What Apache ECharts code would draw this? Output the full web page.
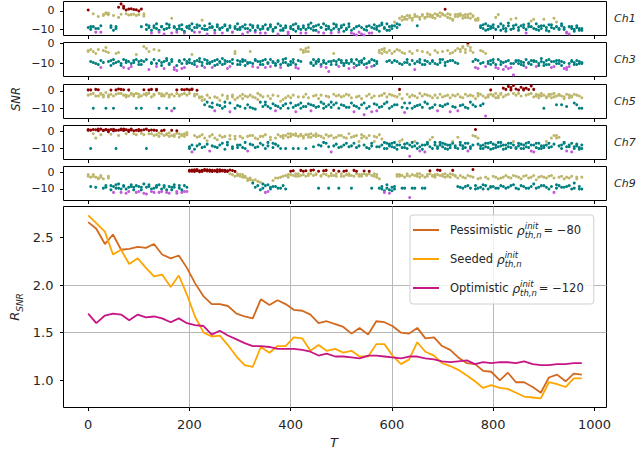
<!DOCTYPE html>
<html><head><meta charset="utf-8">
<script src="https://cdn.jsdelivr.net/npm/echarts@6/dist/echarts.min.js"></script>
<style>html,body{margin:0;padding:0;background:#fff}#c{width:636px;height:455px}</style>
</head><body><div id="c"></div>
<script>
// ---- data ----
const snrT = [
0,5,10,15,20,25,30,35,40,45,50,55,60,65,70,75,80,85,90,95,
100,105,110,115,120,125,130,135,140,145,150,155,160,165,170,175,180,185,190,195,
200,205,210,215,220,225,230,235,240,245,250,255,260,265,270,275,280,285,290,295,
300,305,310,315,320,325,330,335,340,345,350,355,360,365,370,375,380,385,390,395,
400,405,410,415,420,425,430,435,440,445,450,455,460,465,470,475,480,485,490,495,
500,505,510,515,520,525,530,535,540,545,550,555,560,565,570,575,580,585,590,595,
600,605,610,615,620,625,630,635,640,645,650,655,660,665,670,675,680,685,690,695,
700,705,710,715,720,725,730,735,740,745,750,755,760,765,770,775,780,785,790,795,
800,805,810,815,820,825,830,835,840,845,850,855,860,865,870,875,880,885,890,895,
900,905,910,915,920,925,930,935,940,945,950,955,960,965,970,975];
const ch1 = [
0.5,-8.5,-1.5,-9.5,-3,-11.5,-2,-1,-1.2,-8,-2.5,-9.5,-3.5,3.8,1.5,-1.5,1,-2,0.8,-2.5,
0,-8.5,-2.8,-10,-8,-12,-9,-7,-10.5,-8.5,-12.5,-9.5,-7.5,-4,-9,-11.5,-8,-10,-12,-8.5,
-9.5,-7,-11.5,-9,-8,-5,-10,-12.5,-9,-8.5,-10.5,-7.5,-9.5,-12,-8,-10,-9,-11.5,-8.5,-10,
-9,-12.5,-7.5,-9.5,-10.5,-8,-11.5,-9,-10,-8.5,-12,-9.5,-7.5,-10,-9,-12.5,-8,-10.5,-9,-11.5,
-8.5,-10,-7,-9.5,-12,-8,-10,-9,-6.5,-8.5,-10.5,-7.5,-9,-12,-8,-9.5,-10.5,-7,-8.5,-11.5,
-9,-7.5,-10,-8.5,-12,-9.5,-13,-8,-12.5,-10,-8.5,-12,-9,-7.5,-10,-8,-6.5,-9.5,-7,-10.5,
-8,-6,-9,-7.5,-5,-3.5,-4.5,-2.5,-4,-3,-8,-3.5,-2.5,-4,-3,-2,-3.5,-1.5,-2.5,-1,
-2,0.9,-1.5,-4,-5,-2,-3,-1.5,-2.5,-3.5,-2,-4,-3,-4.5,-5,-8,-9.5,-7,-10,-8.5,
-9,-3.5,-2,-10.5,-8,-9.5,-6.5,-10,-8,-4,-9,-13.5,-7.5,-10,-8.5,-5.5,-9.5,-7,-10.5,-8,
-4.5,-9,-11,-7.5,-9.5,-6,-10,-8,-9,-11.5,-12.5,-8.5,-10,-9,-10.5,-9.5];
const ch1b = [
-9,-10,-8.5,-11.5,-9.5,-8,-2.5,-1.5,-2,-9,-10.5,-8.5,2,-1.8,2.5,0.5,-2.2,1.2,-1.8,0.6,
-2,1,-1.5,-7.5,-9,-10.5,-8,-9.5,-11.5,-8.5,-10,-7,-9,-12,-8.5,-10,-9.5,-7.5,-11,-9,
-8,-10.5,-9,-7.5,-11.5,-9.5,-8,-10,-7,-9,-12,-8.5,-10,-9,-7.5,-10.5,-8,-11.5,-9.5,-7,
-10,-8.5,-9.5,-11.5,-7.5,-9,-10.5,-8,-12,-9.5,-7.5,-10,-8.5,-11,-9,-7,-10.5,-9.5,-8,-12.5,
-9.5,-7.5,-11,-8.5,-10,-9,-12,-7.5,-9.5,-10.5,-8,-11.5,-9,-7,-10,-8.5,-12,-9.5,-7.5,-10,
-8,-11,-9.5,-7,-10.5,-12.5,-8.5,-11.5,-9,-13,-10.5,-8,-12,-9.5,-8.5,-11,-7.5,-9,-10.5,-8.5,
-9.5,-8,-7,-4,-3,-4.5,-2.5,-3.5,-5,-2,-3,-4.5,-2,-3.5,-1.5,-3,-2.5,-4,-2,-3,
-1.5,-2.5,-3.5,-2,-4.5,-3,-1.8,-2.5,-4,-2,-3.5,-1.5,-2.5,-5,-4,-9,-7.5,-10.5,-8,-9.5,
-7.5,-10,-8.5,-7,-9.5,-11,-8,-4.5,-9.5,-7.5,-10.5,-8,-9,-12,-7,-8.5,-4.5,-10,-8.5,-9.5,
-8,-10.5,-7.5,-9,-4,-8.5,-9.5,-7,-10,-12,-8.5,-9.5,-11,-8,-9.5,-10.5];
const ch3 = [
-3.5,-9,-4,-10,-3,-12,-9.5,-2,-4.5,-8.5,-10,-5,-9,-11,-8,-9.5,-12.5,-10,-8.5,-5.5,
-9,-10.5,-1.5,-8,-13,-9.5,-3,-10,-8.5,-11,-9,-7.5,-10.5,-8,-12,-13.5,-9,-12.5,-8,-10,
-9.5,-5.5,-10.5,-8.5,-9,-11,-8,-10,-9.5,-12,-8.5,-10.5,-9,-7.5,-10,-12.5,-9,-8,-5,-10.5,
-9,-8,-11,-9.5,-4,-10,-8.5,-12,-9,-10.5,-8,-9.5,-11.5,-9,-10,-8.5,-12,-9.5,-7.5,-10.5,
-9,-8,-10.5,-12.5,-9,-3.5,-2.5,-4,-9.5,-8,-10,-9,-11.5,-8.5,-10,-14,-9,-5,-10.5,-8,
-9.5,-11,-8.5,-10,-9,-12,-8,-10.5,-9.5,-7.5,-10,-9,-11.5,-8.5,-10,-4.5,-3,-4,-9,-3.5,
-5,-8.5,-3,-10,-4.5,-9.5,-8,-10.5,-5,-13,-9,-8,-4,-10.5,-9,-5.5,-8.5,-10,-4.5,-9.5,
-8,-11,-9,-5,-8.5,-3.5,-2.5,-4,-1.5,-3,0,-2,-4.5,-8,-12.5,-3.5,-9.5,-5,-10,-8.5,
-9.5,-12,-8,-10.5,-13,-9,-12.5,-10,-15.7,-8.5,-10,-9,-11,-8,-9.5,-10.5,-8.5,-9,-11,-7.5,
-9.5,-10.5,-8,-9,-11.5,-8.5,-10,-9,-12.5,-13,-10,-8.5,-9.5,-10.5,-9,-10];
const ch3b = [
-4,-3,-9.5,-5,-10.5,-8.5,-3.5,-4,-9,-11,-8,-9.5,-4.5,-10,-12,-8.5,-9,-11.5,-9.5,-8,
-10.5,-8.5,-9,-2.5,-4,-10,-8,-11.5,-3.5,-9.5,-12.5,-8.5,-10,-9,-13,-11,-8.5,-10,-12,-9,
-8,-10,-9,-11.5,-7.5,-9.5,-12,-8.5,-10,-9,-11,-8,-9.5,-10.5,-8.5,-9,-11.5,-10,-4,-8.5,
-10.5,-9,-8.5,-10,-9.5,-11.5,-8,-9,-10.5,-8.5,-12,-10,-8,-9.5,-11,-9,-10.5,-8,-9.5,-11,
-10.5,-9.5,-12,-8.5,-3,-4.5,-4,-2,-10,-11,-9,-8,-10.5,-9.5,-12,-9,-10.5,-8.5,-9,-11.5,
-8.5,-10,-9.5,-12.5,-8,-10,-11,-9,-8.5,-10.5,-12,-9.5,-8,-11,-9,-3.5,-5,-2.5,-4.5,-8.5,
-9.5,-4,-9,-3.5,-10.5,-5,-9.5,-4,-8.5,-10,-3.5,-9.5,-10.5,-8.5,-4.5,-10,-9,-3.5,-10.5,-8,
-4,-9.5,-3.5,-8.5,-4.5,-9.5,-10,-3,-2,-4.5,-1,-3.5,-9,-12,-8.5,-10,-4,-11.5,-9,-10.5,
-8,-10.5,-12.5,-9,-9.5,-11.5,-8.5,-12,-10,-9,-8.5,-10.5,-9.5,-12,-10,-8.5,-9,-11.5,-10,-9,
-11,-8.5,-10.5,-12,-9,-10,-8.5,-11,-9.5,-12,-11.5,-9,-10.5,-8.5,-10,-9.5];
const ch5 = [
0.5,-2,-10,0.8,-3,-1.5,-2.5,-10,-3.5,-2,-10,0.5,1,-1.5,0.6,-2.5,-3,-1.5,-2,-10,
-3.5,-10,-2,-1.5,0.5,0.8,-2.5,0.4,-10,-1.8,-3,-10,-2.5,-11.5,-10,-1.5,-3,-2,0.6,0.9,
0.5,1,-2,0.3,-3.5,-5.5,-8,-2.5,-9,-7,-11.5,-4,-8.5,-10,-6.5,-3,-12,-2.5,-10,-4,
-3,-2,-10,-3.5,-2.5,-10,-4,-1.5,-6.5,-9,-8,-3,-10,-7.5,-11.5,-9,-6,-8.5,-4,-10,
-7,-9.5,-12,-8,-10,-3.5,-9,-7.5,-11.5,-8.5,-2.5,-9,-6.5,-10,-3,-8,-9.5,-2,-7,-10,
-3.5,-8.5,-9.5,-2.5,-7,-12,-9,-3,-8,-13.7,-10,-2,-12,-7.5,-11.5,-3,-9,-1.5,-6.5,-10,
-2.5,-8,-3.5,0.8,-9.5,-12.5,-2,-7,-10,-3,-8.5,-1.5,-9.5,-6.5,-2.5,-10,-4,-8,-11.5,-2,
-9,-3,-7.5,-12,-2.5,-9.5,-11.5,-3.5,-8,-2,-10,-6.5,-3,-9,-1.5,-8.5,-3,-14.5,-2.5,0.5,
-3,-1.5,-4,-2,1.5,-2.5,2.5,0.5,3,1,-1.5,2,0.5,1.5,-2,2.8,0.8,-3,-2.5,-1.5,
-10,-3.5,-2,-4,-1.5,-3,-2.5,-8,-3.5,-2,-4,-3,-7,-2.5,-10,-10];
const ch5b = [
-2.5,0.5,-1.5,-3,0.6,-2,-3.5,-1,-2.5,0.4,-3,-2,-1.5,0.8,-2.5,-3.5,0.5,-2,-3,-1.5,
-2,-3,0.6,-2.5,-1.5,-3.5,-2,0.8,-1.5,-3,-2.5,-1.5,-3.5,-2,-3,0.5,-2.5,0.7,-1.5,-2.5,
-1.5,0.7,-3,-2,-4,-3.5,-5,-6.5,-4,-9.5,-3.5,-8,-5.5,-2.5,-9,-4.5,-7,-3.5,-5,-8.5,
-9,-4.5,-3,-8,-9.5,-3.5,-10.5,-5,-2.5,-3.5,-6.5,-9,-4.5,-2.5,-8.5,-3,-10,-5,-7.5,-3,
-4,-2.5,-8.5,-3.5,-7,-9,-2,-4,-8,-3,-9.5,-4.5,-2.5,-7.5,-9,-3.5,-6.5,-8,-3,-2.5,
-8,-3,-2,-9.5,-4,-8.5,-3.5,-10,-4.5,-7,-3,-9,-4,-3,-8,-9.5,-2.5,-7.5,-3.5,-2,
-9,-3,-8,-2,-4.5,-7,-10,-3.5,-2.5,-9,-4,-8,-3,-2,-7.5,-3,-9.5,-2.5,-4,-8.5,
-3.5,-8,-2.5,-4,-9,-3,-2,-8.5,-4,-9.5,-3,-2.5,-8,-4.5,-3,-2,-7.5,-4,-3.5,-2,
-2.5,-4,-3,-1.5,-3.5,0.8,-2,1.8,-1.5,-2.5,0.5,-3,1.2,-2.5,0.7,-1.5,-3.5,-2,-4,-3,
-2.5,-4,-3,-2,-3.5,-8,-2,-3,-4.5,-9,-2.5,-3.5,-2,-8,-3,-4];
const ch7 = [
0.5,-10,1,-4,0.3,1.2,0.5,0.8,-0.3,1,0.2,-10,0.6,1.3,0.4,0.9,-0.2,0.7,-1.5,0.5,
0.3,-1.2,0.8,-10,0.4,-1.5,0.6,-2,-1,0.3,-2.5,-1.5,-3,0.5,-2,-1.2,-3.5,-2,-1.5,-0.8,
-10,-12,-2.5,-8.5,-3,-9.5,-4,-7.5,-11.5,-2,-9,-5,-8,-3.5,-10.5,-6.5,-2.5,-9,-4.5,-8,
-3,-9.5,-6.5,-11.5,-2.5,-8,-4,-9,-7,-3,-10,-8.5,-5,-9.5,-7.5,-2,-10,-4,-2.5,-3.5,
-1.5,-10,-2.5,-3,-1.8,-4,-10,-2,-3.5,-2.5,-1.5,-8,-3,-6.5,-2,-9,-12,-4,-7.5,-2.5,
-9,-3.5,-7,-1.5,-8.5,-3,-9.5,-6,-2,-8,-4,-10,-7,-3,-9,-2,-8,-6.5,-10,-7.5,
-9,-6.5,-10.5,-8,-5,-9.5,-7,-14.5,-9,-6,-10,-11.5,-8,-12,-6.5,-9,-3.5,-8,-10,-6.5,
-9,-7.5,-10.5,-8,-6,-9.5,-3.5,-8,-10,-7,-11.5,-9,-2.5,1,-4,-8.5,-10,-7,-9.5,-6.5,
-10,-8,-9,-6.5,-10.5,-8,-7,-9.5,-6,-10,-8.5,-7.5,-10,-9,-6.5,-11.5,-8,-9.5,-7,-10,
-8.5,-6,-9.5,-4,-7.5,-2.5,-3.5,-8,-6.5,-11.5,-9,-7,-10,-8.5,-9.5,-10];
const ch7b = [
1,0.6,-1.5,0.8,1.3,-2,0.4,1,0.7,-1.8,1.1,0.5,-2.5,0.8,1.2,-1.5,0.6,1.3,0.3,-2,
1,0.5,-2,1.2,-1.5,0.7,-2.5,0.4,-3,-1.5,0.6,-2,-1,-2.5,-3,0.3,-1.5,-2.5,-3,-2,
-9,-8,-10.5,-3.5,-7.5,-2,-9,-5.5,-3,-8.5,-4,-9.5,-2.5,-7,-3,-8,-4.5,-10,-3,-9.5,
-8,-4,-10,-3,-7.5,-2.5,-9.5,-4.5,-3,-8,-2,-6.5,-3.5,-7,-4,-8.5,-3,-2.5,-10,-1.5,
-3,-2,-1.5,-10,-2.5,-3,-2,-3.5,-1.5,-9,-3,-2.5,-8.5,-4,-7,-3,-2.5,-8.5,-3.5,-9.5,
-2.5,-8,-4,-9,-3.5,-7,-2.5,-8.5,-4,-3,-9.5,-2.5,-8.5,-6,-3.5,-9,-4.5,-10,-7,-8.5,
-7,-9.5,-8,-6,-9.5,-7.5,-10,-8,-6.5,-8.5,-7,-9,-10.5,-8,-7.5,-5,-10,-6.5,-9,-8,
-7,-10,-8,-9.5,-7,-8.5,-10,-6.5,-8.5,-9.5,-7,-10,-8,-3,-7.5,-10,-8,-9,-7,-10.5,
-7.5,-9.5,-6.5,-8.5,-8,-10,-9,-7,-8,-9.5,-7,-10,-8,-7,-9.5,-8,-12,-7,-10,-8.5,
-9.5,-8,-7,-9,-2.5,-4,-8.5,-10,-7,-9,-8,-12,-9,-7.5,-10.5,-8];
const ch9 = [
-1.5,-8.5,-2.5,-3,-3.5,-2,-4,-9,-3.5,-8,-12,-9.5,-7,-10,-8.5,-12.5,-9,-7.5,-10.5,-8,
-11.5,-9,-7,-13,-8.5,-10,-12,-9,-7.5,-11.5,-8,-10.5,-12.5,-9,-7.5,-11.5,-9.5,-12,-8,-11.5,
1,0.5,1.3,0.8,0.2,1,1.5,0.6,1.2,0.4,0.9,1.4,0.5,1.1,0.3,0.8,1.2,-1.5,0.4,-2,
-2.5,-1.5,-3,-4,-3.5,-5,-4.5,-8,-6,-9.5,-12,-7.5,-10,-5,-8.5,-3.5,-9.5,-2.5,-10,-1.5,
0.5,-2,-1,-2.5,1,-1.5,0.8,-2,-1,1.2,-1.5,-9.5,-2.5,0.8,-1.5,-9.5,-2,1,-1,-9.5,
-2.5,0.5,-1.5,-2,-9.5,1,-1,-2.5,-1.5,0.6,-2,-1,-9.5,-2.5,-1.5,-4,-8.5,-11,-7.5,-12.5,
-9,-10,-2.5,-1.5,-9.5,-3,-2,-15,-1.5,-9.5,-2.5,-1,-9.5,-3,-1.5,0.8,-2,-3,-1.5,1,
-2.5,-1,-2,-3,-1.5,-2.5,-8.5,-2,-9.5,-3.5,-8,-2.5,1.5,-10,-4,-9,-7.5,-3,-10,-8.5,
-2.5,-9.5,-4,-8,-3,-2,-9,-3.5,-7.5,-2.5,-10,-4,-8.5,-2,-9.5,-3,-7,-4.5,-9,-2.5,
-8,-3.5,-10,-2,-12,-7.5,-3,-9,-4,-8.5,-3.5,-10,-6.5,-4,-10,-10];
const ch9b = [
-2.5,-3,-1.5,-9,-4,-3,-9.5,-8,-2.5,-10.5,-8.5,-7.5,-9.5,-12,-8,-10,-11.5,-8.5,-9,-12,
-8.5,-10.5,-12.5,-9,-7.5,-11.5,-9.5,-8,-12,-10,-9,-12,-8.5,-10.5,-9,-12.5,-8,-10.5,-11.5,-9,
0.5,1.2,0.4,1.5,0.8,0.3,1,1.3,0.5,1.1,0.6,0.2,1.3,0.7,1,0.4,-1,0.9,-2.5,-1,
-1.5,-3,-2.5,-5,-4.5,-6.5,-9,-5.5,-10.5,-7,-8,-11.5,-9,-8.5,-3.5,-9.5,-3,-8,-2,-3,
-1.5,0.8,-2.5,-1,-2,0.5,-2.5,-1,1,-2,-1,0.5,-2,-1,1,-2.5,-0.8,-2,-2.5,0.5,
-1,-2.5,0.8,-1,-2,-2.5,0.5,-1.5,-2.5,-1,-1.5,0.5,-2,-1,-3,-9.5,-10,-12,-9.5,-10.5,
-11,-8.5,-1.5,-2.5,-2,-9.5,-1,-2.5,-9.5,-2,-1,-3,-2,-9.5,-2.5,-1,-2.5,-1.5,1.2,-2,
-1.5,-3,-2.5,-1,1,-2,-3.5,-9,-3,-8.5,-2,-9.5,-3,-8,-9.5,-3.5,-10,-8,-4,-9,
-8.5,-3,-9.5,-3.5,-8.5,-9.5,-3,-8,-2,-9.5,-3,-8,-2.5,-9.5,-3.5,-8.5,-2,-9.5,-3,-8,
-3,-9,-2.5,-8.5,-3.5,-9.5,-8,-2.5,-9,-3,-8,-2.5,-9.5,-3,-8.5,-3];
const channelNames = ['Ch1','Ch3','Ch5','Ch7','Ch9'];

const lineT = [0,16,33,49,65,81,98,114,130,146,163,179,195,211,228,244,260,276,293,309,
325,341,358,374,390,406,423,439,455,471,488,504,520,536,553,569,585,601,618,634,
650,666,683,699,715,731,748,764,780,796,813,829,845,861,878,894,910,926,943,959,975];
const pessimistic = [2.66,2.59,2.43,2.53,2.37,2.38,2.40,2.39,2.43,2.32,
2.28,2.31,2.18,2.02,1.88,1.80,1.80,1.78,1.70,1.67,
1.65,1.85,1.79,1.84,1.80,1.74,1.73,1.69,1.60,1.62,
1.59,1.56,1.49,1.55,1.48,1.62,1.61,1.57,1.50,1.49,
1.55,1.44,1.45,1.36,1.32,1.24,1.18,1.17,1.10,1.09,
1.00,1.08,0.98,0.98,0.93,0.87,1.03,1.06,0.99,1.07,1.06];
const seeded = [2.73,2.65,2.56,2.32,2.37,2.22,2.28,2.18,2.09,2.11,
1.98,2.10,1.90,1.67,1.50,1.46,1.47,1.37,1.25,1.16,
1.14,1.35,1.29,1.36,1.36,1.45,1.44,1.31,1.37,1.31,
1.33,1.29,1.31,1.25,1.25,1.38,1.38,1.26,1.17,1.22,
1.40,1.30,1.26,1.18,1.15,1.11,1.05,0.99,0.92,0.95,
0.92,0.91,0.87,0.83,0.82,0.81,0.98,0.96,0.93,1.02,1.02];
const optimistic = [1.70,1.60,1.68,1.70,1.69,1.63,1.69,1.66,1.67,1.65,
1.61,1.65,1.60,1.58,1.57,1.48,1.52,1.47,1.43,1.39,
1.36,1.36,1.35,1.33,1.33,1.33,1.32,1.30,1.26,1.28,
1.25,1.25,1.24,1.23,1.26,1.26,1.25,1.24,1.23,1.25,
1.25,1.23,1.22,1.20,1.19,1.20,1.21,1.17,1.19,1.18,
1.19,1.19,1.18,1.20,1.17,1.16,1.16,1.17,1.17,1.18,1.18];
const lineNames = ['Pessimistic','Seeded','Optimistic'];
const lineSuffix = ['= \u221280','','= \u2212120'];
const xTicks = [0,200,400,600,800,1000];
const snrTicks = [-10,0];
const rTicks = [1.0,1.5,2.0,2.5];

// ---- chart ----
const fam = 'DejaVu Sans';
const txt = '#262626';
function snrColor(v){
  if (v >= -0.5) return '#8b0000';
  if (v >= -6) return '#bdb76b';
  if (v >= -11) return '#008080';
  return '#c25bd9';
}
const minusFmt = v => v < 0 ? '\u2212' + Math.abs(v) : String(v);
const channels = [[ch1, ch1b], [ch3, ch3b], [ch5, ch5b], [ch7, ch7b], [ch9, ch9b]];
const panelTop = [1.5, 42.5, 84.5, 125.5, 166.5];
const panelH = 34;
const panelRange = [[-13.3,5.1],[-16.5,0.5],[-15.9,3.6],[-16.4,3.3],[-16.8,3.3]];
const L = 63.5, W = 543;
const grids = [], xAxes = [], yAxes = [], series = [], graphics = [];
channels.forEach((pair, k) => {
  grids.push({left:L, top:panelTop[k], width:W, height:panelH, show:true, borderColor:'#000', borderWidth:1, backgroundColor:'transparent'});
  xAxes.push({type:'value', gridIndex:k, min:-48.75, max:1023.75, position:'bottom',
    axisLine:{show:false, onZero:false}, axisTick:{show:true, customValues:xTicks, length:3.5, lineStyle:{color:'#000', width:1}},
    axisLabel:{show:false}, splitLine:{show:false}});
  yAxes.push({type:'value', gridIndex:k, min:panelRange[k][0], max:panelRange[k][1], position:'left',
    axisLine:{show:false, onZero:false}, axisTick:{show:true, customValues:snrTicks, length:3.5, lineStyle:{color:'#000', width:1}},
    axisLabel:{show:true, customValues:snrTicks, formatter:minusFmt, fontSize:11, fontFamily:fam, color:txt, margin:9},
    splitLine:{show:false}});
  const pts = snrT.map((t,i)=>[t, pair[0][i]]).concat(snrT.map((t,i)=>[t, pair[1][i]]));
  series.push({type:'scatter', xAxisIndex:k, yAxisIndex:k, silent:true,
    data: pts, symbolSize:3,
    itemStyle:{color: p => snrColor(p.value[1]), opacity:1}});
  graphics.push({type:'text', x:614, y:panelTop[k]+panelH/2, silent:true,
    style:{text:channelNames[k], fontSize:11, fontStyle:'italic', fontFamily:fam, fill:txt,
      align:'left', verticalAlign:'middle', textAlign:'left', textVerticalAlign:'middle'}});
});
// bottom panel
grids.push({left:L, top:206.5, width:W, height:201, show:true, borderColor:'#000', borderWidth:1, backgroundColor:'transparent'});
xAxes.push({type:'value', gridIndex:5, min:-48.75, max:1023.75, position:'bottom',
  axisLine:{show:false, onZero:false}, axisTick:{show:true, customValues:xTicks, length:3.5, lineStyle:{color:'#000', width:1}},
  axisLabel:{show:true, customValues:xTicks, formatter:v=>String(v), fontSize:13, fontFamily:fam, color:txt, margin:10},
  splitLine:{show:true, showMinLine:false, showMaxLine:false, lineStyle:{color:'#b8b8b8', width:1}}});
yAxes.push({type:'value', gridIndex:5, min:0.715, max:2.824, position:'left',
  axisLine:{show:false, onZero:false}, axisTick:{show:true, customValues:rTicks, length:3.5, lineStyle:{color:'#000', width:1}},
  axisLabel:{show:true, customValues:rTicks, formatter:v=>v.toFixed(1), fontSize:13, fontFamily:fam, color:txt, margin:10},
  splitLine:{show:true, showMinLine:false, showMaxLine:false, lineStyle:{color:'#b8b8b8', width:1}}});
const lineData = [pessimistic, seeded, optimistic];
const lineColors = ['#d2691e','#ffa500','#c71585'];
lineData.forEach((vals, k) => {
  series.push({type:'line', name:lineNames[k], xAxisIndex:5, yAxisIndex:5, silent:true,
    data: lineT.map((t,i)=>[t, vals[i]]), symbol:'none', showSymbol:false,
    lineStyle:{width:1.8, color:lineColors[k]}, itemStyle:{color:lineColors[k]}, z:3+k});
});
graphics.push({type:'text', x:16, y:99, rotation:Math.PI/2, silent:true,
  style:{text:'SNR', fontSize:11.5, fontStyle:'italic', fontFamily:fam, fill:txt,
    align:'center', verticalAlign:'middle', textAlign:'center', textVerticalAlign:'middle'}});
graphics.push({type:'text', x:14, y:307, rotation:Math.PI/2, silent:true,
  style:{text:'{R|R}{s|SNR}', fill:txt, align:'center', verticalAlign:'middle', textAlign:'center', textVerticalAlign:'middle',
    rich:{R:{fontSize:13, fontStyle:'italic', fontFamily:fam, fill:txt, lineHeight:20},
          s:{fontSize:9, fontStyle:'italic', fontFamily:fam, fill:txt, lineHeight:10, verticalAlign:'bottom'}}}});
graphics.push({type:'text', x:334, y:442, silent:true,
  style:{text:'T', fontSize:13, fontStyle:'italic', fontFamily:fam, fill:txt,
    align:'center', verticalAlign:'middle', textAlign:'center', textVerticalAlign:'middle'}});

const option = {
  animation:false,
  backgroundColor:'#fff',
  grid: grids, xAxis: xAxes, yAxis: yAxes, series: series, graphic: graphics,
  legend: {
    data: lineNames.map(n => ({name:n, icon:'rect'})), orient:'vertical', left:410, top:215, selectedMode:false,
    itemWidth:26, itemHeight:2, itemGap:11,
    backgroundColor:'rgba(255,255,255,0.8)', borderColor:'#d0d0d0', borderWidth:1, borderRadius:3,
    padding:[6,10,7,3],
    formatter: name => {
      const k = lineNames.indexOf(name);
      let s = '{g| }{t|' + name + ' }{r|\u03c1}{sp|init}{sb|th,n}';
      if (lineSuffix[k]) s += '{e|' + lineSuffix[k] + '}';
      return s;
    },
    textStyle: { color:txt, fontFamily:fam, fontSize:11.5,
      rich: {
        g:{width:6, fontSize:11.5, lineHeight:18},
        t:{fontSize:11.5, fontFamily:fam, color:txt, lineHeight:18},
        r:{fontSize:12.5, fontStyle:'italic', fontFamily:fam, color:txt, lineHeight:18},
        sp:{fontSize:8.5, fontStyle:'italic', fontFamily:fam, color:txt, lineHeight:9, verticalAlign:'top', width:0},
        sb:{fontSize:8.5, fontStyle:'italic', fontFamily:fam, color:txt, lineHeight:9, verticalAlign:'bottom'},
        e:{fontSize:11.5, fontFamily:fam, color:txt, lineHeight:18, padding:[0,0,0,2]}
      }
    }
  }
};
const chart = echarts.init(document.getElementById('c'), null, {renderer:'svg', width:636, height:455});
chart.setOption(option);
</script>
</body></html>
